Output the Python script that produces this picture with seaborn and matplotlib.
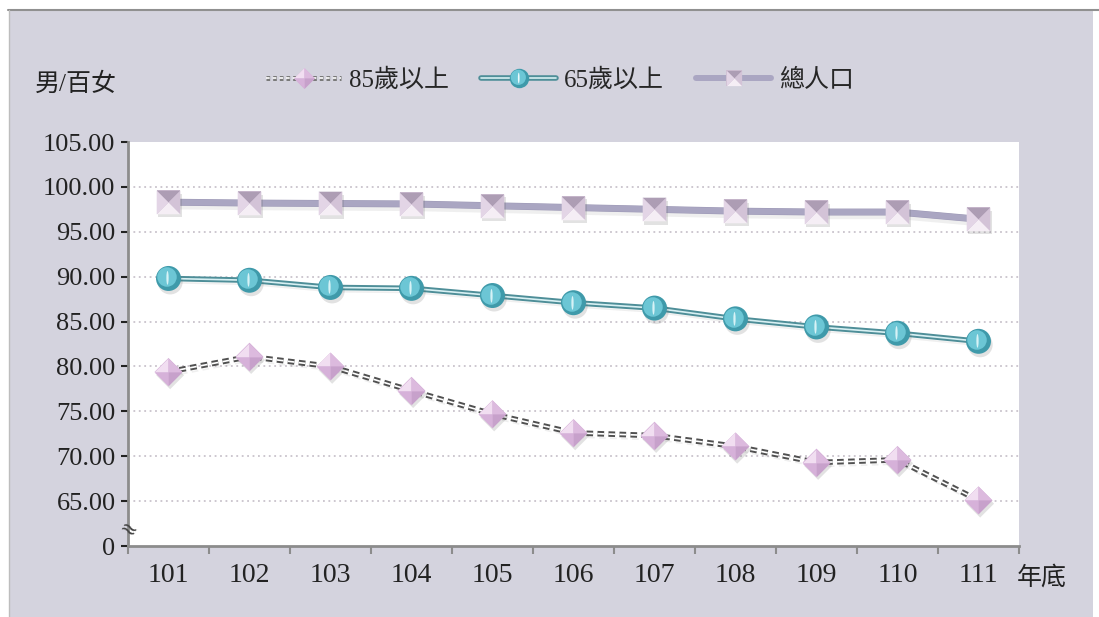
import numpy as np
import pandas as pd
import matplotlib
matplotlib.use("Agg")
import matplotlib.pyplot as plt
import seaborn as sns
from matplotlib.path import Path
from matplotlib.lines import Line2D
from matplotlib.markers import MarkerStyle
from matplotlib.patches import Rectangle
from matplotlib.legend_handler import HandlerTuple
import matplotlib.patheffects as pe

# ---------------- data ----------------
years = [101, 102, 103, 104, 105, 106, 107, 108, 109, 110, 111]
age85 = [79.4, 81.1, 80.0, 77.3, 74.7, 72.6, 72.3, 71.1, 69.3, 69.6, 65.1]
age65 = [89.8, 89.6, 88.8, 88.7, 87.9, 87.1, 86.5, 85.3, 84.4, 83.7, 82.8]
total = [98.3, 98.2, 98.15, 98.1, 97.9, 97.7, 97.5, 97.3, 97.2, 97.2, 96.4]
series_names = ["85歲以上", "65歲以上", "總人口"]
ytick_vals = [60, 65, 70, 75, 80, 85, 90, 95, 100, 105]
ytick_labels = ["0", "65.00", "70.00", "75.00", "80.00", "85.00", "90.00",
                "95.00", "100.00", "105.00"]
y_label = "男/百女"
x_label = "年底"

sns.set_theme(style="white")
plt.rcParams["font.family"] = ["Liberation Serif", "Noto Sans CJK TC", "DejaVu Sans"]
plt.rcParams["axes.unicode_minus"] = False

W, H = 1099, 617
fig = plt.figure(figsize=(W / 100, H / 100), dpi=100)
fig.patch.set_facecolor("white")
fig.patches.append(Rectangle((10 / W, 0), (1093 - 10) / W, (617 - 11) / H,
                             transform=fig.transFigure, facecolor="#d4d3de",
                             edgecolor="none", zorder=-10))
fig.lines.append(Line2D([8 / W, 1], [1 - 10 / H, 1 - 10 / H], transform=fig.transFigure,
                        color="#909090", lw=1.5))
fig.lines.append(Line2D([9 / W, 9 / W], [0, 1 - 10 / H], transform=fig.transFigure,
                        color="#bdbdbd", lw=1.0))

ax = fig.add_axes([128 / W, 1 - 546 / H, (1019 - 128) / W, (546 - 142) / H])
ax.set_facecolor("white")

# ---------------- marker shapes ----------------
dia_full = Path([(0, 1), (1, 0), (0, -1), (-1, 0), (0, 1)])
dia_facets = [
    (Path([(-1, 0), (0, 1), (0, 0), (-1, 0)]), "#f1def1"),
    (Path([(0, 1), (1, 0), (0, 0), (0, 1)]), "#dcbade"),
    (Path([(1, 0), (0, -1), (0, 0), (1, 0)]), "#c7a1cb"),
    (Path([(0, -1), (-1, 0), (0, 0), (0, -1)]), "#d6b1d9"),
]
sq_full = Path([(-1, -1), (1, -1), (1, 1), (-1, 1), (-1, -1)])
sq_facets = [
    (Path([(-1, 1), (1, 1), (0, 0), (-1, 1)]), "#ad9db4"),
    (Path([(1, 1), (1, -1), (0, 0), (1, 1)]), "#d3c3d7"),
    (Path([(1, -1), (-1, -1), (0, 0), (1, -1)]), "#f5eef5"),
    (Path([(-1, -1), (-1, 1), (0, 0), (-1, -1)]), "#e3d5e6"),
]
circ = Path.unit_circle()
# lighter disc shifted up-left (normalised to the full sphere radius of 1)
shift_v = circ.vertices * 0.78 + np.array([-0.12, 0.12])
shift_v = np.vstack([shift_v, [[1.0, 0.0]]])
shift_c = np.concatenate([circ.codes, [Path.MOVETO]])
light_disc = Path(shift_v, shift_c)
hl_v = circ.vertices * np.array([0.09, 0.55]) + np.array([-0.08, 0.05])
hl_v = np.vstack([hl_v, [[1.0, 0.0]]])
hl_path = Path(hl_v, shift_c)

shadow = [pe.SimplePatchShadow(offset=(1.2, -2.5), shadow_rgbFace="#555555", alpha=0.17),
          pe.Normal()]
line_shadow = [pe.SimpleLineShadow(offset=(1.2, -3), shadow_color="#666666", alpha=0.1)]

df = pd.DataFrame({"year": years, series_names[0]: age85,
                   series_names[1]: age65, series_names[2]: total})

# ---------------- lines ----------------
sns.lineplot(data=df, x="year", y=series_names[2], ax=ax, color="#aaa6c2", lw=4.3,
             path_effects=line_shadow + [pe.Stroke(linewidth=5.0, foreground="#9d99b6"),
                                         pe.Normal()], zorder=3)
sns.lineplot(data=df, x="year", y=series_names[1], ax=ax, color="#d8f0f3", lw=1.2,
             path_effects=line_shadow + [pe.Stroke(linewidth=4.0, foreground="#4e8e98"),
                                         pe.Normal()], zorder=3)
sns.lineplot(data=df, x="year", y=series_names[0], ax=ax, color="white", lw=1.2,
             linestyle=(0, (4.0, 2.6)),
             path_effects=line_shadow + [pe.Stroke(linewidth=4.0, foreground="#505050"),
                                         pe.Normal()], zorder=3)

# ---------------- markers ----------------
def facet_markers(col, full, facets, size, basecol):
    sns.scatterplot(data=df, x="year", y=col, ax=ax, marker=MarkerStyle(full), s=size ** 2,
                    color=basecol, linewidth=0, zorder=4, path_effects=shadow)
    for p, c in facets:
        sns.scatterplot(data=df, x="year", y=col, ax=ax, marker=MarkerStyle(p), s=size ** 2,
                        color=c, linewidth=0, zorder=5)

facet_markers(series_names[0], dia_full, dia_facets, 20, "#d4aed7")
facet_markers(series_names[2], sq_full, sq_facets, 17, "#cfbfd3")
sns.scatterplot(data=df, x="year", y=series_names[1], ax=ax, marker="o", s=18 ** 2,
                color="#3f9aaa", linewidth=0, zorder=4, path_effects=shadow)
sns.scatterplot(data=df, x="year", y=series_names[1], ax=ax, marker=MarkerStyle(light_disc),
                s=18 ** 2, color="#6cc6d5", linewidth=0, zorder=5)
sns.scatterplot(data=df, x="year", y=series_names[1], ax=ax, marker=MarkerStyle(hl_path),
                s=18 ** 2, color="#eafafc", linewidth=0, zorder=6, alpha=0.85)

# ---------------- axes ----------------
ax.set_xlim(years[0] - 0.5, years[-1] + 0.5)
ax.set_ylim(ytick_vals[0], ytick_vals[-1])
ax.set_xticks(years)
ax.set_xticklabels([str(y) for y in years], fontsize=20)
ax.set_xticks([y - 0.5 for y in years] + [years[-1] + 0.5], minor=True)
ax.set_yticks(ytick_vals)
ax.set_yticklabels(ytick_labels, fontsize=19)
ax.tick_params(axis="x", which="major", length=0, pad=12, colors="#222222")
ax.tick_params(axis="x", which="minor", length=6, width=1.5, color="#8c8c8c",
               direction="out", bottom=True)
ax.tick_params(axis="y", length=5, width=1.5, direction="out",
               left=True, pad=4, colors="#222222")
for t in ax.get_yticklines():
    t.set_color("#8c8c8c")
ax.set_xlabel("")
ax.set_ylabel("")
for s in ["top", "right"]:
    ax.spines[s].set_visible(False)
for s in ["left", "bottom"]:
    ax.spines[s].set_color("#8c8c8c")
    ax.spines[s].set_linewidth(2)
for v in ytick_vals[1:-1]:
    ax.axhline(v, color="#c9c3cc", lw=1.3, ls=(0, (1, 2)), zorder=1)
ax.text(years[0] - 0.5, 61.7, "≈", fontsize=15, ha="center", va="center",
        rotation=-30, color="#444444", family=["DejaVu Sans"], zorder=7)

# ---------------- legend ----------------
def proxy_markers(full, facets, size, basecol):
    hs = [Line2D([], [], ls="", marker=MarkerStyle(full), markersize=size,
                 markerfacecolor=basecol, markeredgewidth=0)]
    for p, c in facets:
        hs.append(Line2D([], [], ls="", marker=MarkerStyle(p), markersize=size,
                         markerfacecolor=c, markeredgewidth=0))
    return hs

h85 = tuple([Line2D([], [], color="white", lw=1.2, ls=(0, (2.2, 1.8)),
                    path_effects=[pe.Stroke(linewidth=3.6, foreground="#7a7a7a"), pe.Normal()])]
            + proxy_markers(dia_full, dia_facets, 15, "#d4aed7"))
h65 = (Line2D([], [], color="#d8f0f3", lw=1.2,
              path_effects=[pe.Stroke(linewidth=4.0, foreground="#4e8e98"), pe.Normal()]),
       Line2D([], [], ls="", marker="o", markersize=14, markerfacecolor="#3f9aaa",
              markeredgewidth=0),
       Line2D([], [], ls="", marker=MarkerStyle(light_disc), markersize=14,
              markerfacecolor="#6cc6d5", markeredgewidth=0),
       Line2D([], [], ls="", marker=MarkerStyle(hl_path), markersize=14,
              markerfacecolor="#eafafc", markeredgewidth=0))
htot = tuple([Line2D([], [], color="#aaa6c2", lw=4.3)]
             + proxy_markers(sq_full, sq_facets, 11, "#cfbfd3"))
fig.legend([h85, h65, htot], series_names, loc="center",
           bbox_to_anchor=(560 / W, 1 - 80 / H), ncol=3, frameon=False, fontsize=18,
           handlelength=3.0, handletextpad=0.3, columnspacing=1.3,
           handler_map={tuple: HandlerTuple(ndivide=1, pad=0)})

fig.text(35 / W, 1 - 84 / H, y_label, fontsize=18, va="center", ha="left", color="#222222")
fig.text(1017 / W, 1 - 578 / H, x_label, fontsize=18, va="center", ha="left", color="#222222")

fig.savefig("out.png", dpi=100, facecolor=fig.get_facecolor())
